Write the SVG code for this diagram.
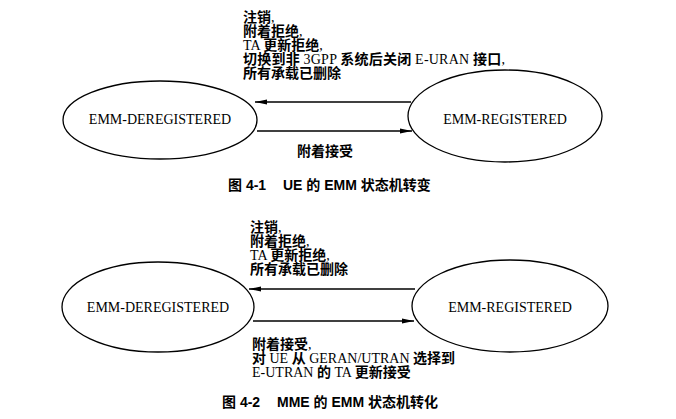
<svg xmlns="http://www.w3.org/2000/svg" width="676" height="419" viewBox="0 0 676 419">
<defs>
<marker id="ah" markerWidth="12" markerHeight="6" refX="12" refY="3" orient="auto" markerUnits="userSpaceOnUse">
<path d="M0,0.6 L12,3 L0,5.4 Z" fill="#000"/>
</marker>
<style>
.node{fill:#fff;stroke:#000;stroke-width:1.3}
.nt{font-family:"Liberation Serif","Noto Sans CJK SC",serif;font-size:14px;text-anchor:middle;fill:#000}
.edge{stroke:#000;stroke-width:1.3;fill:none;marker-end:url(#ah)}
.lb{font-family:"Liberation Serif","Noto Sans CJK SC",serif;font-size:14px;fill:#000}
.c{font-weight:bold}
.cap{font-family:"Liberation Sans","Noto Sans CJK SC",sans-serif;font-size:14px;font-weight:bold;fill:#000}
</style>
</defs>
<rect width="676" height="419" fill="#fff"/>

<g id="fig1">
<g id="ue-deregistered">
<ellipse class="node" cx="160" cy="120" rx="97" ry="39"/>
<text class="nt" x="160" y="124">EMM-DEREGISTERED</text>
</g>
<g id="ue-registered">
<ellipse class="node" cx="505" cy="116" rx="97" ry="46"/>
<text class="nt" x="505" y="124">EMM-REGISTERED</text>
</g>
<g id="ue-connectors">
<line class="edge" x1="411" y1="102" x2="255" y2="102"/>
<line class="edge" x1="257" y1="131" x2="412" y2="131"/>
</g>
<g id="ue-labels">
<text class="lb" x="243" y="22"><tspan class="c">注销</tspan>,</text>
<text class="lb" x="243" y="36"><tspan class="c">附着拒绝</tspan>,</text>
<text class="lb" x="243" y="50">TA <tspan class="c">更新拒绝</tspan>,</text>
<text class="lb" x="243" y="64" textLength="262" lengthAdjust="spacing"><tspan class="c">切换到非</tspan> 3GPP <tspan class="c">系统后关闭</tspan> E-URAN <tspan class="c">接口</tspan>,</text>
<text class="lb" x="243" y="78"><tspan class="c">所有承载已删除</tspan></text>
<text class="lb c" x="297" y="156">附着接受</text>
</g>
<text class="cap" x="228" y="190">图 4-1</text>
<text class="cap" x="283" y="190">UE 的 EMM 状态机转变</text>
</g>

<g id="fig2">
<g id="mme-deregistered">
<ellipse class="node" cx="158" cy="307" rx="96" ry="45"/>
<text class="nt" x="158" y="312">EMM-DEREGISTERED</text>
</g>
<g id="mme-registered">
<ellipse class="node" cx="510" cy="306" rx="98" ry="46"/>
<text class="nt" x="510" y="312">EMM-REGISTERED</text>
</g>
<g id="mme-connectors">
<line class="edge" x1="415" y1="289" x2="249" y2="289"/>
<line class="edge" x1="253" y1="321" x2="414" y2="321"/>
</g>
<g id="mme-labels">
<text class="lb" x="250" y="232"><tspan class="c">注销</tspan>,</text>
<text class="lb" x="250" y="246"><tspan class="c">附着拒绝</tspan>,</text>
<text class="lb" x="250" y="260">TA <tspan class="c">更新拒绝</tspan>,</text>
<text class="lb" x="250" y="274"><tspan class="c">所有承载已删除</tspan></text>
<text class="lb" x="252" y="349"><tspan class="c">附着接受</tspan>,</text>
<text class="lb" x="252" y="363"><tspan class="c">对</tspan> UE <tspan class="c">从</tspan> GERAN/UTRAN <tspan class="c">选择到</tspan></text>
<text class="lb" x="252" y="377">E-UTRAN <tspan class="c">的</tspan> TA <tspan class="c">更新接受</tspan></text>
</g>
<text class="cap" x="222" y="407">图 4-2</text>
<text class="cap" x="277" y="407">MME 的 EMM 状态机转化</text>
</g>
</svg>
